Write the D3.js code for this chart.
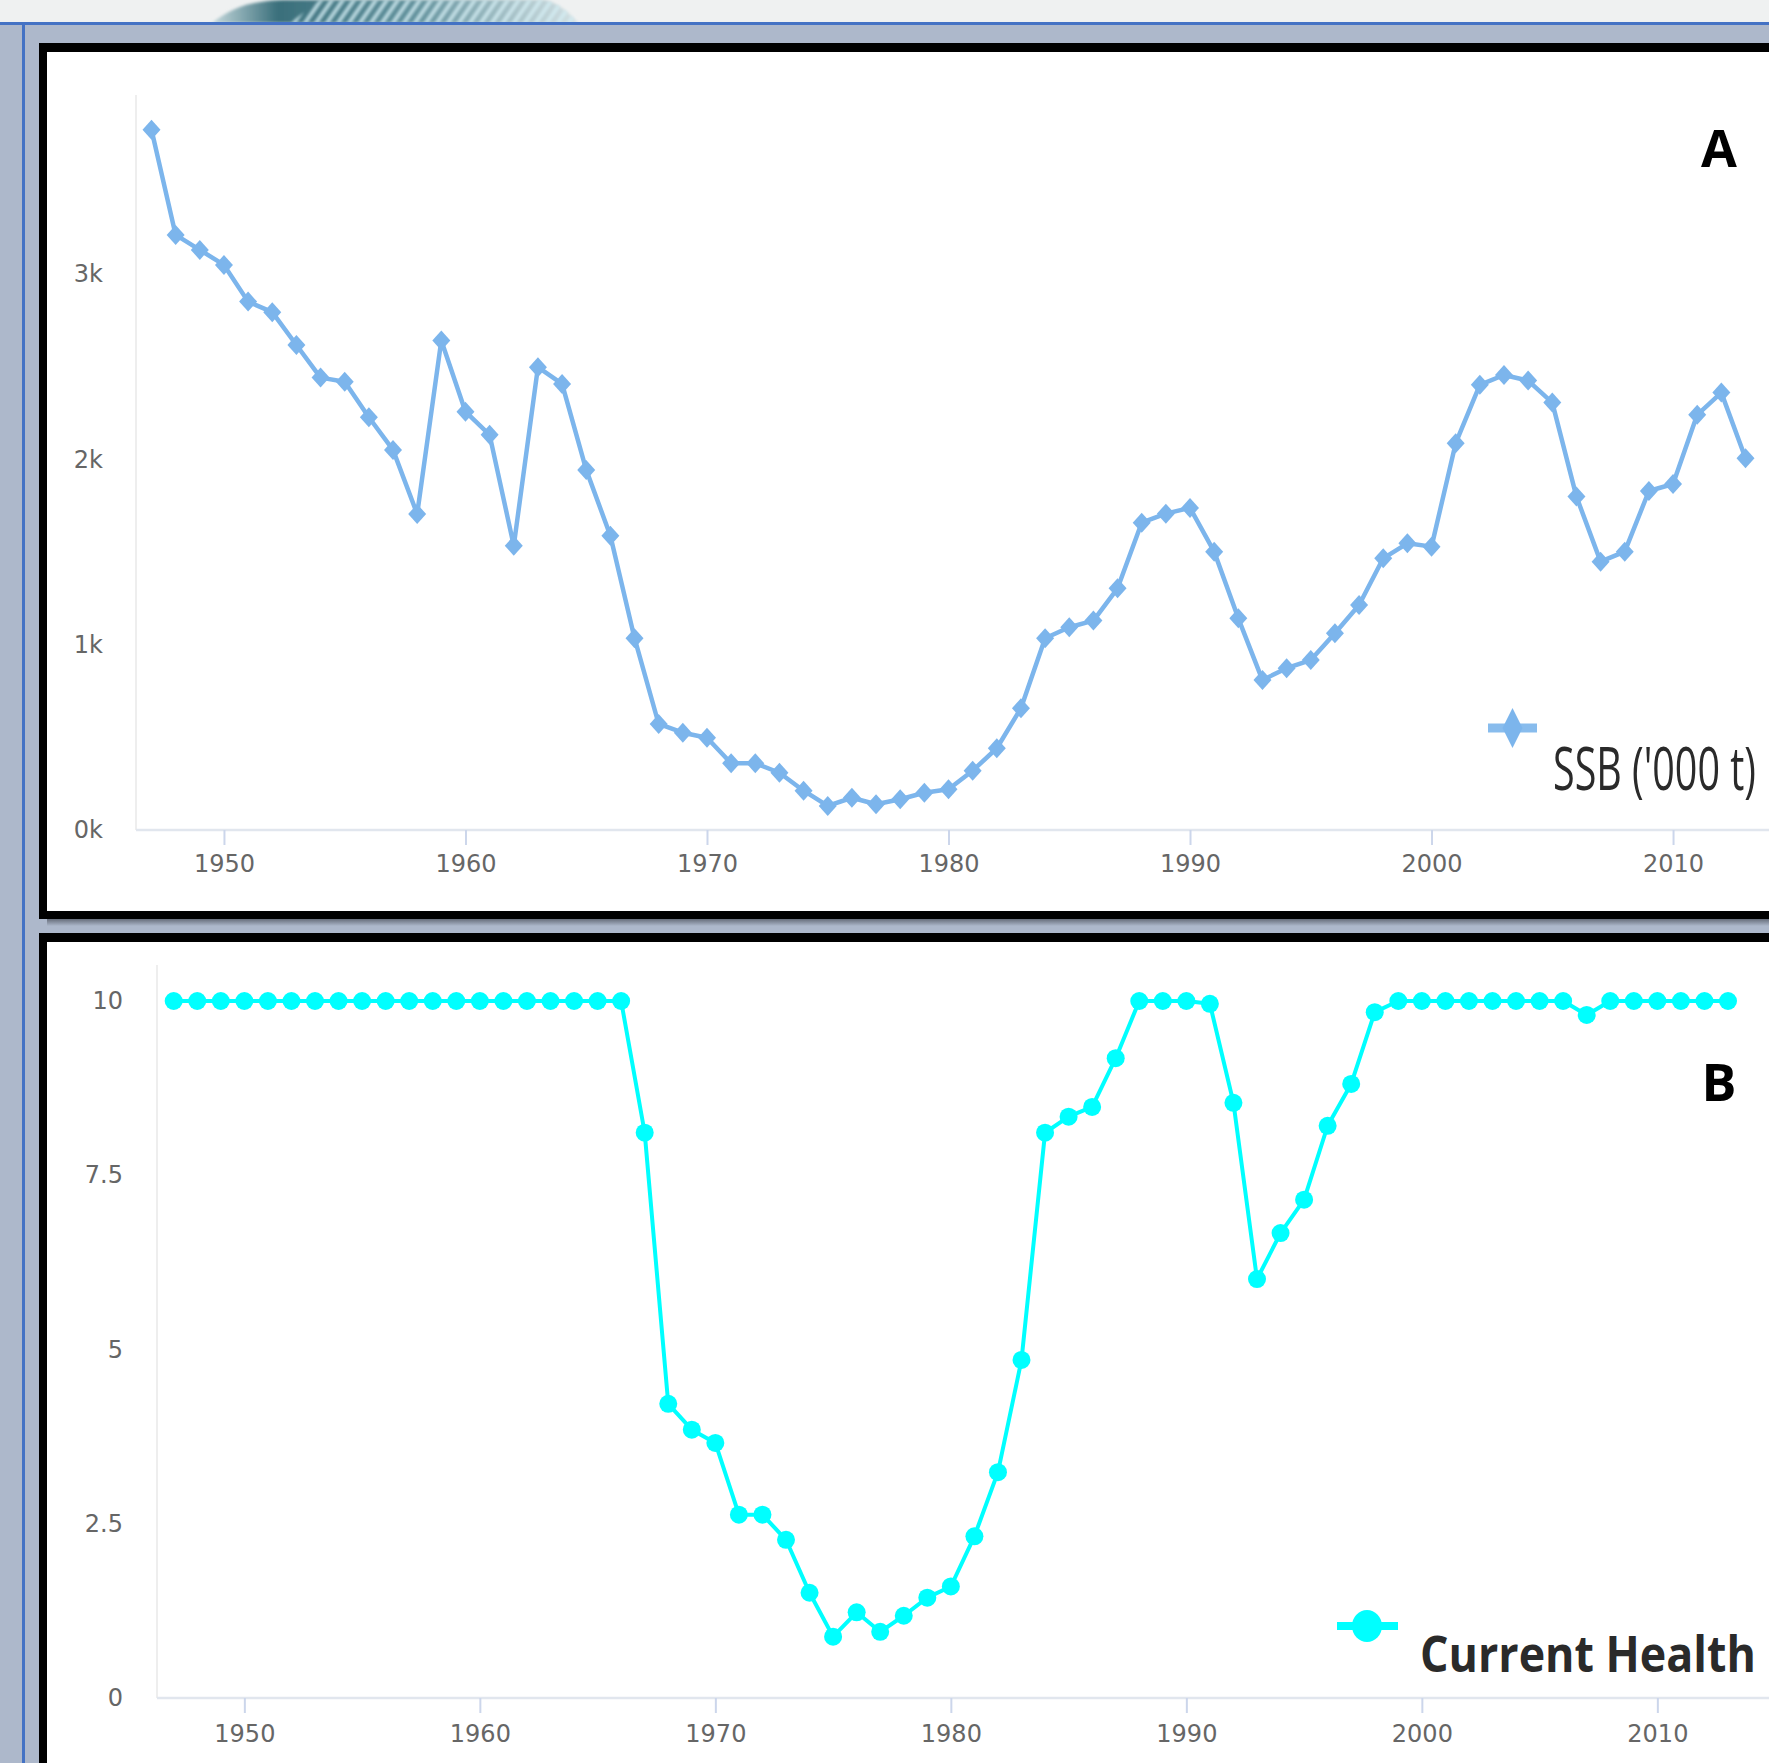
<!DOCTYPE html>
<html><head><meta charset="utf-8">
<script src="https://cdn.jsdelivr.net/npm/d3@7"></script>
<style>html,body{margin:0;padding:0;background:#adb8cb;overflow:hidden}</style>
</head><body>
<svg id="c" width="1769" height="1763"></svg>
<script>
// ---------- data ----------
const years = [1947,1948,1949,1950,1951,1952,1953,1954,1955,1956,1957,1958,1959,1960,1961,1962,1963,1964,1965,1966,
  1967,1968,1969,1970,1971,1972,1973,1974,1975,1976,1977,1978,1979,1980,1981,1982,1983,1984,1985,1986,
  1987,1988,1989,1990,1991,1992,1993,1994,1995,1996,1997,1998,1999,2000,2001,2002,2003,2004,2005,2006,
  2007,2008,2009,2010,2011,2012,2013];
// Spawning stock biomass, '000 t
const ssb = [3778,3211,3130,3049,2851,2794,2617,2441,2419,2227,2051,1705,2641,2257,2132,1534,2497,2407,1943,1588,
  1035,572,525,498,360,360,309,212,130,174,139,166,201,220,320,441,657,1035,1094,1130,
  1304,1658,1707,1738,1502,1142,809,873,917,1062,1214,1466,1547,1529,2087,2402,2455,2425,2306,1799,
  1448,1502,1829,1867,2240,2360,2006];
// Current health index (0-10)
const health = [10,10,10,10,10,10,10,10,10,10,10,10,10,10,10,10,10,10,10,10,
  8.11,4.22,3.85,3.66,2.63,2.63,2.27,1.51,0.88,1.23,0.95,1.18,1.44,1.60,2.32,3.24,4.85,8.11,8.34,8.48,
  9.18,10,10,10,9.96,8.54,6.01,6.67,7.15,8.21,8.81,9.84,10,10,10,10,10,10,10,10,
  9.80,10,10,10,10,10,10];
const decadeTicks = [1950,1960,1970,1980,1990,2000,2010];
const ssbTicks = [0,1000,2000,3000];
const healthTicks = [0,2.5,5,7.5,10];
const ssbLegend = "SSB ('000 t)";
const healthLegend = "Current Health";
const panelLabels = ["A","B"];

// ---------- drawing ----------
const svg = d3.select("#c");
const W = 1769, H = 1763;
const defs = svg.append("defs");

const sh = defs.append("linearGradient").attr("id","shadow").attr("x1",0).attr("x2",0).attr("y1",0).attr("y2",1);
sh.append("stop").attr("offset","0%").attr("stop-color","#666d7a");
sh.append("stop").attr("offset","100%").attr("stop-color","#adb8cb");

const tg = defs.append("linearGradient").attr("id","teal").attr("x1",0).attr("x2",1).attr("y1",0).attr("y2",0);
tg.append("stop").attr("offset","0%").attr("stop-color","#c4d8dc");
tg.append("stop").attr("offset","18%").attr("stop-color","#3a6f7b");
tg.append("stop").attr("offset","55%").attr("stop-color","#5f8f9a");
tg.append("stop").attr("offset","100%").attr("stop-color","#d3e0e3");

const pat = defs.append("pattern").attr("id","stripes").attr("patternUnits","userSpaceOnUse")
  .attr("width",9).attr("height",9).attr("patternTransform","rotate(35)");
pat.append("rect").attr("x",0).attr("y",0).attr("width",4).attr("height",9).attr("fill","#d4eef4").attr("opacity",0.8);

const blur = defs.append("filter").attr("id","blur");
blur.append("feGaussianBlur").attr("stdDeviation",1.6);

// background
svg.append("rect").attr("width",W).attr("height",H).attr("fill","#adb8cb");
svg.append("rect").attr("x",0).attr("y",0).attr("width",W).attr("height",23).attr("fill","#eff1f1");
svg.append("path").attr("d","M212,23 C232,8 250,0 290,0 L545,0 C560,4 570,14 578,23 Z").attr("fill","url(#teal)").attr("filter","url(#blur)");
svg.append("path").attr("d","M290,23 L320,0 L545,0 C560,4 570,14 578,23 Z").attr("fill","url(#stripes)").attr("filter","url(#blur)");
svg.append("rect").attr("x",0).attr("y",22).attr("width",W).attr("height",3).attr("fill","#4472c4");
svg.append("rect").attr("x",22).attr("y",22).attr("width",3).attr("height",H).attr("fill","#4472c4");

// panel frames
svg.append("rect").attr("x",39).attr("y",43).attr("width",1760).attr("height",876).attr("fill","#000");
svg.append("rect").attr("x",47).attr("y",52).attr("width",1750).attr("height",859).attr("fill","#fff");
svg.append("rect").attr("x",47).attr("y",919).attr("width",1750).attr("height",7).attr("fill","url(#shadow)");
svg.append("rect").attr("x",39).attr("y",933).attr("width",1760).attr("height",860).attr("fill","#000");
svg.append("rect").attr("x",47).attr("y",942).attr("width",1750).attr("height",850).attr("fill","#fff");

const tickFont = "'DejaVu Sans', sans-serif";

function styleAxis(g, withTicks){
  g.select(".domain").remove();
  g.selectAll("text").attr("font-family",tickFont).attr("font-size",24).attr("fill","#666");
  if(withTicks) g.selectAll(".tick line").attr("stroke","#ccd6eb").attr("stroke-width",2);
  else g.selectAll(".tick line").remove();
}

// text squeezed/stretched horizontally to a target width, via a transform
function fitText(parent, str, x, baseline, width, size, weight){
  const t = parent.append("text").attr("x",0).attr("y",0).text(str)
    .attr("font-family","'Open Sans', sans-serif").attr("font-weight",weight)
    .attr("font-size",size).attr("fill","#2a2a2a");
  const natural = t.node().getComputedTextLength() || width;
  t.attr("transform",`translate(${x},${baseline}) scale(${width/natural},1)`);
  return t;
}

// ---------- Panel A ----------
const xA = d3.scaleLinear().domain([1947,2013]).range([151.5,1745.5]);
const yA = d3.scaleLinear().domain([0,3000]).range([830,274]);
const gA = svg.append("g");
gA.append("line").attr("x1",136).attr("x2",136).attr("y1",95).attr("y2",yA(0)).attr("stroke","#e8e8e8").attr("stroke-width",1.5);
gA.append("line").attr("x1",136).attr("x2",W).attr("y1",yA(0)).attr("y2",yA(0)).attr("stroke","#e1e6ee").attr("stroke-width",2.5);
gA.append("g").attr("transform",`translate(0,${yA(0)})`)
  .call(d3.axisBottom(xA).tickValues(decadeTicks).tickFormat(d3.format("d")).tickSize(15).tickPadding(10))
  .call(g=>styleAxis(g,true));
gA.append("g").attr("transform","translate(136,0)")
  .call(d3.axisLeft(yA).tickValues(ssbTicks).tickFormat(d=>(d/1000)+"k").tickSize(0).tickPadding(33))
  .call(g=>styleAxis(g,false));

const lineA = d3.line().x((d,i)=>xA(years[i])).y(d=>yA(d));
gA.append("path").datum(ssb).attr("d",lineA).attr("fill","none").attr("stroke","#7cb5ec")
  .attr("stroke-width",4.5).attr("stroke-linejoin","round");
gA.selectAll("path.mk").data(ssb).join("path").attr("class","mk")
  .attr("d","M0,-10 L9,0 L0,10 L-9,0 Z")
  .attr("transform",(d,i)=>`translate(${xA(years[i])},${yA(d)})`)
  .attr("fill","#7cb5ec");

// legend A
const legA = gA.append("g");
legA.append("line").attr("x1",1488).attr("x2",1537).attr("y1",728).attr("y2",728).attr("stroke","#7cb5ec").attr("stroke-width",9).attr("opacity",0.9);
legA.append("path").attr("d","M0,-20 L10,0 L0,20 L-10,0 Z").attr("transform","translate(1512.5,728)").attr("fill","#7cb5ec");
fitText(legA, ssbLegend, 1553, 790, 203, 60, 400);
gA.append("text").attr("x",1719).attr("y",167).attr("text-anchor","middle").text(panelLabels[0])
  .attr("font-family","'Open Sans', sans-serif").attr("font-weight",700).attr("font-size",52).attr("fill","#000");

// ---------- Panel B ----------
const xB = d3.scaleLinear().domain([1947,2013]).range([173.7,1728]);
const yB = d3.scaleLinear().domain([0,10]).range([1698,1001]);
const gB = svg.append("g");
gB.append("line").attr("x1",157).attr("x2",157).attr("y1",965).attr("y2",yB(0)).attr("stroke","#e8e8e8").attr("stroke-width",1.5);
gB.append("line").attr("x1",157).attr("x2",W).attr("y1",yB(0)).attr("y2",yB(0)).attr("stroke","#e1e6ee").attr("stroke-width",2.5);
gB.append("g").attr("transform",`translate(0,${yB(0)})`)
  .call(d3.axisBottom(xB).tickValues(decadeTicks).tickFormat(d3.format("d")).tickSize(15).tickPadding(12))
  .call(g=>styleAxis(g,true));
gB.append("g").attr("transform","translate(157,0)")
  .call(d3.axisLeft(yB).tickValues(healthTicks).tickFormat(d=>String(d)).tickSize(0).tickPadding(34))
  .call(g=>styleAxis(g,false));

const lineB = d3.line().x((d,i)=>xB(years[i])).y(d=>yB(d));
gB.append("path").datum(health).attr("d",lineB).attr("fill","none").attr("stroke","#00ffff")
  .attr("stroke-width",4).attr("stroke-linejoin","round");
gB.selectAll("circle.mk").data(health).join("circle").attr("class","mk")
  .attr("cx",(d,i)=>xB(years[i])).attr("cy",d=>yB(d)).attr("r",9).attr("fill","#00ffff");

// legend B
const legB = gB.append("g");
legB.append("line").attr("x1",1337).attr("x2",1398).attr("y1",1626).attr("y2",1626).attr("stroke","#00ffff").attr("stroke-width",8);
legB.append("ellipse").attr("cx",1367).attr("cy",1626).attr("rx",15).attr("ry",16).attr("fill","#00ffff");
fitText(legB, healthLegend, 1420, 1672, 336, 50, 700);
gB.append("text").attr("x",1719).attr("y",1101).attr("text-anchor","middle").text(panelLabels[1])
  .attr("font-family","'Open Sans', sans-serif").attr("font-weight",700).attr("font-size",52).attr("fill","#000");
</script>
</body></html>
